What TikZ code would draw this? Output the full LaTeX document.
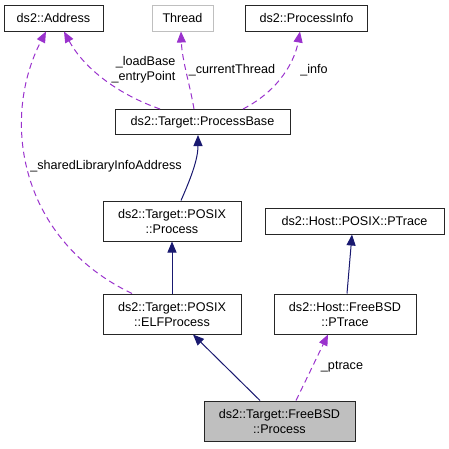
\documentclass[tikz,border=0pt]{standalone}
\usepackage{fontspec}
\setmainfont{Liberation Sans}
\usetikzlibrary{arrows.meta}
\definecolor{navy}{HTML}{191970}
\definecolor{orchid}{HTML}{9A32CD}
\definecolor{lgray}{HTML}{BFBFBF}
\begin{document}
\begin{tikzpicture}[x=1pt,y=-1pt,
  box/.style={draw=black!85,line width=1pt,inner sep=0pt,align=center,
    font=\fontsize{12.6}{15}\selectfont},
  lbl/.style={inner sep=0pt,align=right,font=\fontsize{12.6}{15}\selectfont},
  inh/.style={draw=navy,line width=1pt,-{Triangle[length=11pt,width=9pt]}},
  use/.style={draw=orchid,line width=1pt,dash pattern=on 6pt off 4pt,
    -{Triangle[length=11pt,width=9pt]}}]
\useasboundingbox (0,0) rectangle (449,448);
\node[box,minimum width=99pt,minimum height=26pt] (addr) at (53.5,18) {ds2::Address};
\node[box,draw=lgray,minimum width=61pt,minimum height=26pt] (thread) at (182.5,18) {Thread};
\node[box,minimum width=121.5pt,minimum height=26pt] (pinfo) at (306.5,18) {ds2::ProcessInfo};
\node[box,minimum width=175pt,minimum height=25pt] (pb) at (202.5,122) {ds2::Target::ProcessBase};
\node[box,minimum width=138pt,minimum height=40pt] (pp) at (172,221) {ds2::Target::POSIX\\::Process};
\node[box,minimum width=179pt,minimum height=26pt] (hpp) at (354.5,221) {ds2::Host::POSIX::PTrace};
\node[box,minimum width=138pt,minimum height=40pt] (elf) at (172,314) {ds2::Target::POSIX\\::ELFProcess};
\node[box,minimum width=142pt,minimum height=40pt] (fpt) at (345,314) {ds2::Host::FreeBSD\\::PTrace};
\node[box,fill=lgray,minimum width=151pt,minimum height=40pt] (fp) at (279.5,421) {ds2::Target::FreeBSD\\::Process};

\draw[use] ([xshift=-42.5pt]pb.north) .. controls (120,95) and (85,70) .. ([xshift=10.5pt]addr.south);
\draw[use] ([xshift=-8.5pt]pb.north) .. controls (190,85) and (182,60) .. ([xshift=-1.5pt]thread.south);
\draw[use] ([xshift=40.5pt]pb.north) .. controls (280,90) and (295,60) .. ([xshift=-6.5pt]pinfo.south);
\draw[inh] ([xshift=9pt]pp.north) .. controls (190,180) and (198,160) .. ([xshift=-4.5pt]pb.south);
\draw[use] ([xshift=-40pt]elf.north) .. controls (20,240) and (0,120) .. ([xshift=-7.5pt]addr.south);
\draw[inh] (elf.north) -- (pp.south);
\draw[inh] ([xshift=2pt]fpt.north) -- ([xshift=-2.5pt]hpp.south);
\draw[inh] ([xshift=-19.5pt]fp.north) -- ([xshift=21pt]elf.south);
\draw[use] ([xshift=16.5pt]fp.north) -- ([xshift=-17pt]fpt.south);

\node[lbl] (l1) at (143.5,69.5) {\_loadBase\\\_entryPoint};
\node[lbl] (l2) at (232,70) {\_currentThread};
\node[lbl] (l3) at (314,70) {\_info};
\node[lbl] (l4) at (106,166) {\_sharedLibraryInfoAddress};
\node[lbl] (l5) at (342,367) {\_ptrace};
\end{tikzpicture}
\end{document}
